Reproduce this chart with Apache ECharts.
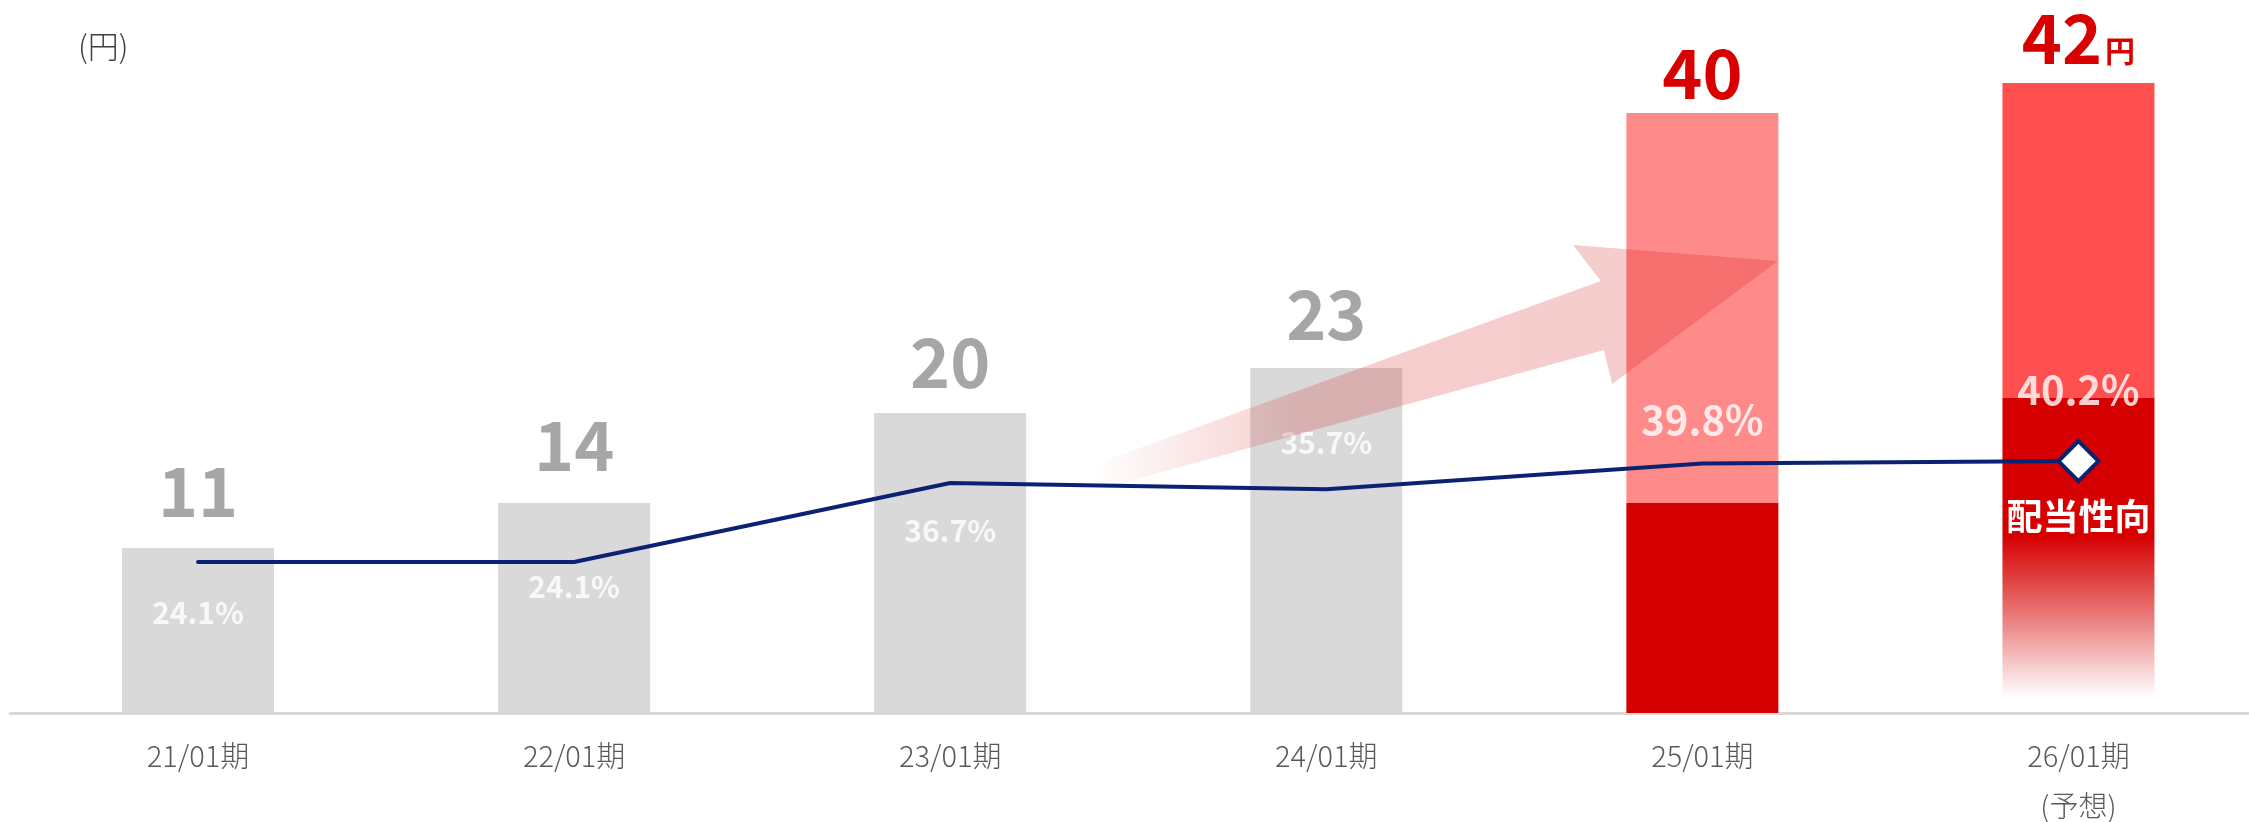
<!DOCTYPE html>
<html><head><meta charset="utf-8">
<script src="https://cdn.jsdelivr.net/npm/echarts@6/dist/echarts.min.js"></script>
<style>html,body{margin:0;padding:0;background:#fff}#c{width:2249px;height:822px}</style>
</head><body><div id="c"></div>
<script>
// ---- data ----
const categories = ['21/01期', '22/01期', '23/01期', '24/01期', '25/01期', '26/01期\n(予想)'];
const baseDividend = [11, 14, 20, 23, 14, 21];
const extraDividend = [0, 0, 0, 0, 26, 21];
const payoutRatio = [24.1, 24.1, 36.7, 35.7, 39.8, 40.2];
const unitLabel = '(円)';
const yenSuffix = '円';
const ratioName = '配当性向';

// ---- styles ----
const FONT = '"Noto Sans CJK JP", "Noto Sans", sans-serif';
const GRAY = '#D9D9D9', RED = '#D60000', NAVY = '#0B2272';
const totals = baseDividend.map((v, i) => v + extraDividend[i]);
const valueLabelGap = [23, 24, 17, 20, 6, 11];
const pctOffset = [51, 25, 48, -47, -44, -71];
const pctSize = [30, 30, 30, 30, 40, 40];
const upperColor = ['#FF8A8A', '#FF5050'];
function baseColor(i) {
  if (i < 4) return GRAY;
  if (i === 4) return RED;
  return { type: 'linear', x: 0, y: 0, x2: 0, y2: 1, colorStops: [
    { offset: 0, color: RED }, { offset: 0.44, color: RED },
    { offset: 0.68, color: 'rgba(214,0,0,0.55)' },
    { offset: 0.95, color: 'rgba(214,0,0,0)' }, { offset: 1, color: 'rgba(214,0,0,0)' }] };
}
function valueLabel(i, isLast) {
  const red = i >= 4;
  return {
    show: true, position: 'top', distance: valueLabelGap[i],
    formatter: isLast ? '{n|' + totals[i] + '}{u|' + yenSuffix + '}' : '{n|' + totals[i] + '}',
    rich: {
      n: { fontSize: 68, fontWeight: 'bold', color: red ? '#D90000' : '#A6A6A6', fontFamily: FONT, lineHeight: 68 },
      u: { fontSize: 30, fontWeight: 'bold', color: '#D90000', fontFamily: FONT, verticalAlign: 'bottom', padding: [0, 0, 6, 3] }
    }
  };
}

const chart = echarts.init(document.getElementById('c'), null, { renderer: 'canvas' });
const option = {
  animation: false,
  backgroundColor: '#fff',
  grid: { left: 10, right: -17.5, top: 38, bottom: 109, containLabel: false, outerBoundsMode: 'none' },
  xAxis: {
    type: 'category', data: categories, boundaryGap: true,
    axisLine: { lineStyle: { color: '#D9D9D9', width: 3 } },
    axisTick: { show: false },
    axisLabel: { color: '#595959', fontSize: 29, fontWeight: 300, lineHeight: 50, margin: 18, fontFamily: FONT }
  },
  yAxis: [
    { type: 'value', min: 0, max: 45, show: false, splitLine: { show: false } },
    { type: 'value', min: 0, max: 107.7, show: false, splitLine: { show: false } }
  ],
  series: [
    {
      type: 'bar', stack: 'div', barWidth: 152, z: 1,
      data: baseDividend.map((v, i) => ({
        value: v, itemStyle: { color: baseColor(i) },
        label: extraDividend[i] === 0 ? valueLabel(i, false) : { show: false }
      }))
    },
    {
      type: 'bar', stack: 'div', barWidth: 152, z: 1,
      data: extraDividend.map((v, i) => v > 0 ? ({
        value: v, itemStyle: { color: upperColor[i - 4] },
        label: valueLabel(i, i === categories.length - 1)
      }) : '-')
    },
    {
      type: 'scatter', yAxisIndex: 1, z: 2, symbolSize: 1,
      itemStyle: { color: 'rgba(0,0,0,0)' },
      data: payoutRatio.map((v, i) => ({
        value: v,
        label: { show: true, position: 'inside', offset: [0, pctOffset[i]], fontSize: pctSize[i],
          formatter: v.toFixed(1) + '%', color: '#fff', fontWeight: 'bold', fontFamily: FONT }
      }))
    },
    {
      type: 'line', yAxisIndex: 1, z: 4,
      symbol: 'diamond',
      symbolSize: (val, p) => p.dataIndex === payoutRatio.length - 1 ? 40 : 0,
      showSymbol: true,
      lineStyle: { color: NAVY, width: 4, cap: 'round', join: 'round' },
      itemStyle: { color: '#fff', borderColor: NAVY, borderWidth: 4 },
      data: payoutRatio.map((v, i) => i === payoutRatio.length - 1 ? ({
        value: v,
        label: { show: true, position: 'bottom', distance: 15, formatter: ratioName,
          color: '#fff', fontSize: 36, fontWeight: 'bold', fontFamily: FONT }
      }) : v)
    }
  ]
};
chart.setOption(option);

// decorative arrow placed in data space (category index, dividend value)
const arrowShape = [[2.372, 16.47], [3.73, 28.8], [3.656, 31.2], [4.201, 30.13], [3.76, 21.93], [3.738, 24.2], [2.409, 15.0]];
const x0 = chart.convertToPixel({ xAxisIndex: 0 }, categories[0]);
const x1 = chart.convertToPixel({ xAxisIndex: 0 }, categories[1]);
const step = x1 - x0;
const pts = arrowShape.map(([ix, v]) => [x0 + ix * step, chart.convertToPixel({ yAxisIndex: 0 }, v)]);
chart.setOption({
  graphic: [
    { type: 'text', left: 78, top: 31, style: { text: unitLabel, fontSize: 31, fontWeight: 300, fontFamily: FONT, fill: '#404040' } },
    { type: 'polygon', z: 3, silent: true, shape: { points: pts },
      style: { fill: { type: 'linear', x: 0, y: 0, x2: 1, y2: 0, colorStops: [
        { offset: 0, color: 'rgba(210,12,12,0)' }, { offset: 0.3, color: 'rgba(210,12,12,0.2)' },
        { offset: 1, color: 'rgba(210,12,12,0.21)' }] } } }
  ]
});
</script></body></html>
